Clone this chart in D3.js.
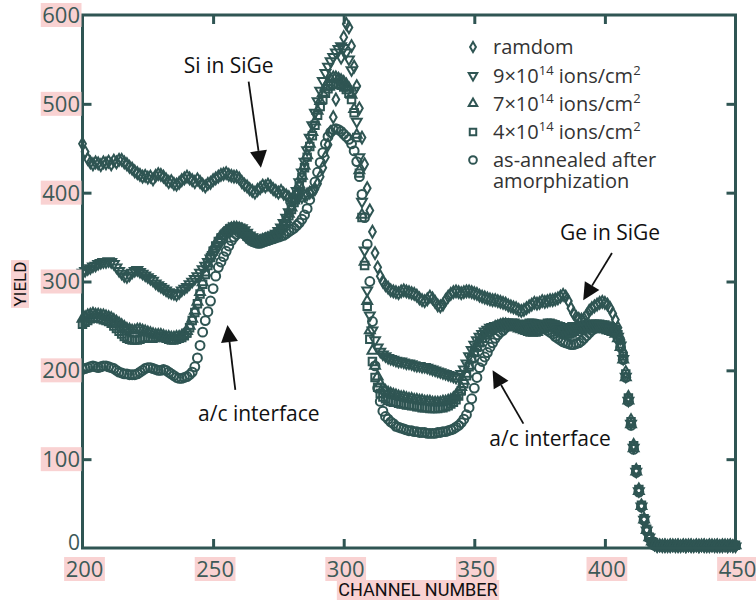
<!DOCTYPE html>
<html>
<head>
<meta charset="UTF-8">
<title>Channeling yield</title>
<style>
  body { margin: 0; background: #fff; }
  svg { display: block; }
</style>
</head>
<body>
<div id="chart"></div>
<script src="https://d3js.org/d3.v7.min.js"></script>
<script>
// first channel of every series, one value per channel after that
var channelStart = 200;

var xTicks = [200, 250, 300, 350, 400, 450];
var yTicks = [0, 100, 200, 300, 400, 500, 600];

var random = [
  455,446,438,434,432,434,433,431,434,433,
  435,432,436,434,437,437,434,432,429,427,
  424,422,420,418,419,417,418,415,419,421,
  420,418,415,412,413,410,409,411,414,416,
  418,416,414,412,415,412,409,407,410,411,
  414,416,418,420,421,422,420,419,418,418,
  416,412,409,407,404,402,400,403,405,408,
  407,409,407,404,402,400,402,399,397,395,
  392,394,397,396,395,397,398,400,401,404,
  410,418,428,440,454,468,485,505,528,552,
  575,590,586,565,542,520,495,462,432,405,
  380,356,332,316,306,300,296,293,290,289,
  288,287,289,290,289,288,287,286,284,281,
  279,278,280,283,281,277,273,272,274,279,
  283,286,288,289,288,287,288,289,289,288,
  287,286,284,283,282,281,280,279,279,278,
  277,276,275,273,272,271,270,268,267,268,
  270,272,274,276,275,276,278,277,278,279,
  279,280,281,283,285,283,278,270,264,260,
  258,257,258,262,267,270,272,274,276,277,
  276,274,270,264,257,248,236,220,198,170,
  144,116,88,66,48,33,21,12,7,4,
  3,3,2,3,2,3,3,2,3,2,
  3,2,3,3,2,3,2,3,3,2,
  3,3,2,3,2,3,3,2,3,2,3
];

var dose9 = [
  310,312,314,315,317,318,320,321,322,322,
  323,322,320,316,312,309,306,305,307,310,
  312,313,311,309,307,305,303,301,298,296,
  294,292,290,288,287,286,285,287,290,292,
  294,297,300,303,306,310,314,318,322,326,
  330,335,340,345,350,354,357,360,362,362,
  361,360,358,355,352,350,348,347,347,348,
  349,350,351,352,354,357,361,366,372,378,
  385,393,402,412,423,435,448,462,476,490,
  503,515,526,535,542,548,553,558,562,565,
  563,558,550,538,515,480,440,390,335,290,
  262,245,234,226,221,218,216,214,213,212,
  211,210,210,209,208,208,207,206,205,205,
  204,204,203,202,201,200,199,198,197,196,
  195,194,193,192,193,196,201,208,216,223,
  229,234,238,241,244,246,248,249,250,250,
  251,252,253,253,254,254,253,252,251,250,
  250,249,248,248,249,250,251,252,252,253,
  252,250,248,246,245,246,248,249,250,250,
  249,248,247,248,249,250,251,251,250,249,
  249,248,247,246,244,238,228,213,193,166,
  140,113,86,64,47,32,20,12,7,4,
  2,3,3,2,3,2,3,3,2,3,
  3,2,3,2,3,3,2,3,2,3,
  2,3,3,2,3,2,3,2,3,3,2
];

var dose7 = [
  258,260,262,263,264,263,263,262,262,261,
  260,259,257,255,253,251,249,247,246,245,
  245,246,246,245,244,243,242,241,240,240,
  240,239,238,238,237,237,238,238,239,241,
  244,250,258,267,277,288,299,310,320,329,
  336,342,347,351,354,357,359,360,361,361,
  360,359,357,354,351,349,347,346,346,347,
  348,349,350,351,353,356,360,365,370,376,
  383,391,400,409,419,430,442,455,468,480,
  492,503,512,519,524,528,530,530,528,527,
  525,522,518,510,494,465,425,375,322,278,
  245,222,205,193,185,180,177,175,174,173,
  172,171,170,170,169,168,168,167,167,166,
  166,165,165,165,164,164,164,164,165,165,
  166,167,169,172,176,181,188,196,205,213,
  220,226,231,235,239,242,245,247,249,250,
  251,252,252,251,250,249,248,247,246,245,
  244,243,242,242,243,245,247,249,250,250,
  249,247,245,243,241,240,240,241,243,245,
  247,248,249,250,250,249,248,247,247,246,
  246,245,244,243,241,236,226,212,192,166,
  139,112,86,64,47,32,20,12,7,4,
  3,2,3,3,2,3,2,3,3,2,
  3,3,2,3,2,3,3,2,3,2,
  3,2,3,3,2,3,2,3,3,2,3
];

var dose4 = [
  252,254,256,258,259,260,259,258,257,256,
  255,253,250,247,244,241,238,236,235,234,
  234,234,235,236,237,237,236,236,237,238,
  238,237,236,235,234,234,235,236,237,239,
  242,248,256,265,275,286,297,308,318,327,
  334,340,345,349,352,355,357,358,359,359,
  358,356,354,351,348,346,345,344,344,345,
  346,347,348,349,351,354,358,363,368,374,
  381,389,398,407,417,428,440,452,464,476,
  487,497,505,512,517,520,522,523,522,521,
  519,516,512,505,490,462,422,372,318,272,
  235,210,192,181,174,170,168,166,165,164,
  164,163,162,162,161,161,160,160,159,159,
  158,158,158,157,157,157,157,158,158,159,
  160,162,164,167,171,177,185,194,204,213,
  220,226,231,236,240,243,246,248,249,250,
  251,252,253,253,252,251,250,250,250,251,
  252,253,253,252,251,250,251,252,253,253,
  252,251,250,249,248,247,246,246,247,248,
  249,250,250,251,251,252,252,252,252,251,
  251,250,249,248,246,240,230,216,196,169,
  142,115,88,66,48,33,21,12,7,4,
  3,3,2,3,3,2,3,2,3,3,
  2,3,3,2,3,2,3,3,2,3,
  3,2,3,2,3,3,2,3,3,2,3
];

var annealed = [
  201,202,203,204,205,204,203,204,205,205,
  204,203,202,200,198,197,196,196,195,195,
  195,196,198,200,202,203,203,202,201,200,
  200,201,200,198,196,194,192,191,191,192,
  193,195,198,204,214,228,243,256,266,278,
  292,306,316,322,328,334,340,346,350,353,
  355,355,353,350,347,345,344,343,343,344,
  345,346,347,348,349,350,351,352,354,356,
  358,360,363,366,370,375,382,392,402,412,
  423,434,445,455,463,468,471,472,471,469,
  466,463,460,455,447,435,418,398,372,342,
  300,255,205,180,165,154,148,145,142,140,
  137,136,135,134,133,132,132,131,131,130,
  130,130,129,129,129,129,130,130,131,131,
  132,133,134,136,138,141,145,150,158,168,
  180,192,203,210,215,220,226,231,236,240,
  243,245,248,250,251,252,252,251,250,249,
  249,250,251,252,252,251,249,247,245,243,
  241,238,236,234,232,231,230,229,229,230,
  231,233,236,239,242,245,247,248,249,249,
  248,247,246,244,242,236,226,212,192,165,
  138,111,85,63,46,31,19,11,6,3,
  2,3,2,3,3,2,3,2,3,2,
  3,3,2,3,2,3,2,3,3,2,
  3,2,3,3,2,3,3,2,3,2,3
];

// legend texts, "^" marks a superscript piece; a second string is a second line
var legendLabels = [
  [["ramdom"]],
  [["9×10", "^14", " ions/cm", "^2"]],
  [["7×10", "^14", " ions/cm", "^2"]],
  [["4×10", "^14", " ions/cm", "^2"]],
  [["as-annealed after"], ["amorphization"]]
];

var teal = "#2f5553";
var width = 756, height = 603;
var margin = { top: 15, right: 20.5, bottom: 55, left: 82.5 };

var svg = d3.select("#chart").append("svg")
  .attr("width", width)
  .attr("height", height);

var x = d3.scaleLinear().domain([200, 450]).range([margin.left, width - margin.right]);
var y = d3.scaleLinear().domain([0, 600]).range([height - margin.bottom, margin.top]);

var series = [
  { values: annealed, type: d3.symbolCircle, size: 62, rot: 0 },
  { values: dose4, type: d3.symbolSquare, size: 56, rot: 0 },
  { values: dose7, type: d3.symbolTriangle, size: 42, rot: 0 },
  { values: dose9, type: d3.symbolTriangle, size: 42, rot: 180 },
  { values: random, type: d3.symbolDiamond, size: 40, rot: 0 }
];

// markers
var plot = svg.append("g");
series.forEach(function(s) {
  var shape = d3.symbol(s.type, s.size)();
  plot.append("g").selectAll("path")
    .data(s.values)
    .join("path")
    .attr("transform", function(v, i) {
      return "translate(" + x(channelStart + i) + "," + y(v) + ") rotate(" + s.rot + ")";
    })
    .attr("d", shape)
    .attr("fill", "none")
    .attr("stroke", teal)
    .attr("stroke-width", 2);
});

// frame and inward ticks
var axes = svg.append("g").attr("class", "axes");
var inner = [100, 200, 300, 400, 500];
var innerX = [250, 300, 350, 400];
axes.append("g").attr("transform", "translate(" + x(200) + ",0)")
  .call(d3.axisLeft(y).tickValues(inner).tickSizeInner(-9).tickSizeOuter(0).tickFormat(""));
axes.append("g").attr("transform", "translate(" + x(450) + ",0)")
  .call(d3.axisRight(y).tickValues(inner).tickSizeInner(-9).tickSizeOuter(0).tickFormat(""));
axes.append("g").attr("transform", "translate(0," + y(0) + ")")
  .call(d3.axisBottom(x).tickValues(innerX).tickSizeInner(-9).tickSizeOuter(0).tickFormat(""));
axes.append("g").attr("transform", "translate(0," + y(600) + ")")
  .call(d3.axisTop(x).tickValues(innerX).tickSizeInner(-9).tickSizeOuter(0).tickFormat(""));
axes.selectAll(".domain").remove();
axes.selectAll(".tick line").attr("stroke", teal).attr("stroke-width", 3);
axes.append("rect")
  .attr("x", x(200)).attr("y", y(600))
  .attr("width", x(450) - x(200)).attr("height", y(0) - y(600))
  .attr("fill", "none").attr("stroke", teal).attr("stroke-width", 3);

// tick labels on pink highlight
var pink = "#f9d2d2";
var labelFont = "'Open Sans', sans-serif";
function pinkLabel(g, txt, cx, cy, anchor, size, color, family, boxH, hasBox) {
  var t = g.append("text")
    .attr("x", cx).attr("y", cy + size * 0.36)
    .attr("text-anchor", anchor)
    .style("font-family", family)
    .style("font-size", size + "px")
    .attr("fill", color)
    .text(txt);
  if (hasBox) {
    var w = t.node().getComputedTextLength();
    var left = anchor === "end" ? cx - w : (anchor === "middle" ? cx - w / 2 : cx);
    g.insert("rect", "text")
      .attr("x", left - 1.5).attr("y", cy - boxH / 2)
      .attr("width", w + 3).attr("height", boxH)
      .attr("fill", pink);
  }
  return t;
}

yTicks.forEach(function(v) {
  var g = svg.append("g");
  var cy = v === 0 ? y(0) - 6 : y(v);
  pinkLabel(g, String(v), 80, cy, "end", v === 0 ? 21 : 22, "#3d5a58", labelFont, 24, v !== 0);
});
xTicks.forEach(function(v) {
  var g = svg.append("g");
  pinkLabel(g, String(v), x(v) + 2, 569, "middle", 22, "#3d5a58", labelFont, 24, true);
});

// axis titles
var gx = svg.append("g");
pinkLabel(gx, "CHANNEL NUMBER", 418, 590, "middle", 18, "#111", "Roboto, sans-serif", 20, true);
var gy = svg.append("g").attr("transform", "translate(20,284) rotate(-90)");
pinkLabel(gy, "YIELD", 0, 0, "middle", 17, "#111", "Roboto, sans-serif", 18, true);

// legend
var legend = svg.append("g");
var legendSymbols = [series[4], series[3], series[2], series[1], series[0]];
var rowY = [47, 75.5, 103.5, 132, 160];
legendSymbols.forEach(function(s, i) {
  legend.append("path")
    .attr("transform", "translate(473," + rowY[i] + ") rotate(" + s.rot + ")")
    .attr("d", d3.symbol(s.type, s.size * 0.75)())
    .attr("fill", "none")
    .attr("stroke", teal)
    .attr("stroke-width", 2);
  legendLabels[i].forEach(function(line, k) {
    var t = legend.append("text")
      .attr("x", 493).attr("y", rowY[i] + 7 + k * 21)
      .style("font-family", labelFont)
      .style("font-size", "20px")
      .attr("fill", "#333");
    var up = false;
    line.forEach(function(part) {
      if (part[0] === "^") {
        t.append("tspan").attr("dy", -8).style("font-size", "13px").text(part.slice(1));
        up = true;
      } else {
        t.append("tspan").attr("dy", up ? 8 : 0).text(part);
        up = false;
      }
    });
  });
});

// annotations with arrows, placed in data units
var notes = [
  { text: "Si in SiGe", tx: 256, ty: 535, from: [263.6, 525], to: [268.3, 428] },
  { text: "a/c interface", tx: 267.5, ty: 143, from: [258.5, 178], to: [255.5, 251] },
  { text: "Ge in SiGe", tx: 402, ty: 347, from: [402.7, 332], to: [391.7, 279] },
  { text: "a/c interface", tx: 379, ty: 115, from: [368.8, 140], to: [357, 200] }
];
var ann = svg.append("g");
notes.forEach(function(n) {
  ann.append("text")
    .attr("x", x(n.tx)).attr("y", y(n.ty))
    .attr("text-anchor", "middle")
    .style("font-family", labelFont)
    .style("font-size", "21px")
    .attr("fill", "#111")
    .text(n.text);
  var x1 = x(n.from[0]), y1 = y(n.from[1]);
  var x2 = x(n.to[0]), y2 = y(n.to[1]);
  var ang = Math.atan2(y2 - y1, x2 - x1);
  var len = 17, half = 8.5;
  var bx = x2 - len * Math.cos(ang), by = y2 - len * Math.sin(ang);
  ann.append("line")
    .attr("x1", x1).attr("y1", y1).attr("x2", bx).attr("y2", by)
    .attr("stroke", "#111").attr("stroke-width", 1.8);
  var pts = [
    [x2, y2],
    [bx + half * Math.sin(ang), by - half * Math.cos(ang)],
    [bx - half * Math.sin(ang), by + half * Math.cos(ang)]
  ];
  ann.append("polygon")
    .attr("points", pts.map(function(p) { return p.join(","); }).join(" "))
    .attr("fill", "#111");
});
</script>
</body>
</html>
